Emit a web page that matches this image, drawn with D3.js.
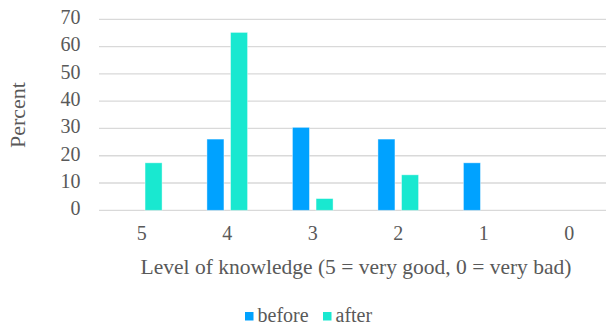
<!DOCTYPE html>
<html>
<head>
<meta charset="utf-8">
<script src="https://cdn.jsdelivr.net/npm/d3@7/dist/d3.min.js"></script>
<style>
  html, body { margin: 0; padding: 0; background: #fff; }
  svg text { font-family: "Liberation Serif", "Times New Roman", serif; fill: #595959; }
</style>
</head>
<body>
<svg id="chart" width="606" height="329"></svg>
<script>
// Knowledge self-assessment, share of respondents per level
const levels = ["5", "4", "3", "2", "1", "0"];
const seriesNames = ["before", "after"];
const before = [0, 26.1, 30.4, 26.1, 17.4, 0];
const after = [17.4, 65.2, 4.3, 13.0, 0, 0];
const yTicks = [0, 10, 20, 30, 40, 50, 60, 70];
const colors = ["#00a2ff", "#19e8d0"];

const serif = '"Liberation Serif", "Times New Roman", serif';
const svg = d3.select("#chart");
const plotLeft = 99, plotRight = 606;
const plotBottom = 210.3, plotTop = 19.3;

const x = d3.scaleBand().domain(levels).range([plotLeft, 612]);
const xs = d3.scaleBand().domain(seriesNames).range([0, x.bandwidth()]).paddingInner(0.28).paddingOuter(0.95);
const y = d3.scaleLinear().domain([0, 70]).range([plotBottom, plotTop]);

// horizontal gridlines
svg.append("g")
  .selectAll("line")
  .data(yTicks)
  .join("line")
  .attr("x1", plotLeft).attr("x2", plotRight)
  .attr("y1", d => y(d)).attr("y2", d => y(d))
  .attr("stroke", "#d9d9d9").attr("stroke-width", 1.3);

// y axis labels
const yAxis = d3.axisLeft(y).tickValues(yTicks).tickSize(0).tickPadding(0);
const yg = svg.append("g").attr("transform", "translate(80.5,-2)").call(yAxis);
yg.select(".domain").remove();
yg.selectAll("text").style("font-size", "20px").style("font-family", serif).style("fill", "#595959");

// x axis labels
const xAxis = d3.axisBottom(x).tickSize(0).tickPadding(0);
const xg = svg.append("g").attr("transform", "translate(0,226)").call(xAxis);
xg.select(".domain").remove();
xg.selectAll("text").style("font-size", "20px").style("font-family", serif).style("fill", "#595959");

// grouped bars
const rows = levels.map((l, i) => ({ level: l, values: [before[i], after[i]] }));
svg.append("g")
  .selectAll("g")
  .data(rows)
  .join("g")
  .attr("transform", d => `translate(${x(d.level)},0)`)
  .selectAll("rect")
  .data(d => d.values.map((v, j) => ({ v, s: seriesNames[j], c: colors[j] })).filter(o => o.v > 0))
  .join("rect")
  .attr("x", d => xs(d.s))
  .attr("width", xs.bandwidth())
  .attr("y", d => y(d.v))
  .attr("height", d => y(0) - y(d.v))
  .attr("fill", d => d.c)
  .attr("stroke", "#ffffff")
  .attr("stroke-opacity", 0.5)
  .attr("stroke-width", 0.8);

// axis titles
svg.append("text")
  .attr("x", 356).attr("y", 274)
  .attr("text-anchor", "middle")
  .style("font-size", "21.5px")
  .text("Level of knowledge (5 = very good, 0 = very bad)");

svg.append("text")
  .attr("transform", "translate(25,115) rotate(-90)")
  .attr("text-anchor", "middle")
  .style("font-size", "22px")
  .text("Percent");

// legend
const legend = svg.append("g").attr("transform", "translate(245,312)");
const items = [{ name: "before", c: colors[0], dx: 0 }, { name: "after", c: colors[1], dx: 78 }];
const li = legend.selectAll("g").data(items).join("g").attr("transform", d => `translate(${d.dx},0)`);
li.append("rect").attr("width", 8.5).attr("height", 8.5).attr("fill", d => d.c);
li.append("text").attr("x", 12.5).attr("y", 9.5).style("font-size", "20px").text(d => d.name);
</script>
</body>
</html>
